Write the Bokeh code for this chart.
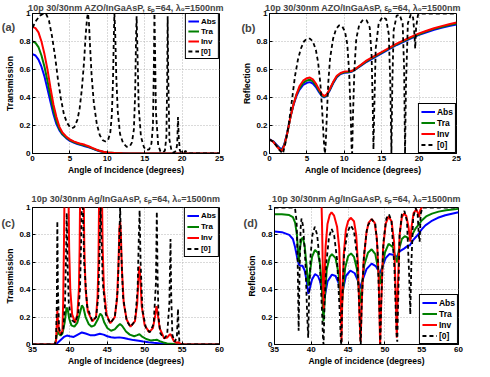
from bokeh.plotting import figure
from bokeh.layouts import column, row
from bokeh.models import Range1d, FixedTicker, CustomJSTickFormatter, Label
from bokeh.embed import file_html
from bokeh.resources import INLINE

# ---------------- data -----------------
# Panel (a): AZO transmission
a_x = [0, 0.4, 0.8, 1.2, 1.6, 2.0, 2.4, 2.8, 3.2, 3.6, 4.0, 4.5, 5.0, 5.5, 6.0, 6.5, 7.0, 7.5,
       8.0, 8.5, 9.0, 9.5, 10.0, 11.0, 12.0, 13.0, 25.0]
a_abs = [0.71, 0.70, 0.67, 0.62, 0.55, 0.46, 0.37, 0.28, 0.21, 0.165, 0.135, 0.11, 0.09, 0.078,
         0.068, 0.06, 0.052, 0.044, 0.035, 0.025, 0.016, 0.01, 0.006, 0.002, 0.001, 0.0, 0.0]
a_tra = [0.80, 0.79, 0.76, 0.70, 0.62, 0.52, 0.41, 0.31, 0.23, 0.175, 0.14, 0.115, 0.095, 0.082,
         0.072, 0.064, 0.056, 0.047, 0.037, 0.027, 0.018, 0.011, 0.007, 0.003, 0.001, 0.0, 0.0]
a_inv = [0.905, 0.895, 0.865, 0.80, 0.71, 0.60, 0.47, 0.35, 0.26, 0.19, 0.15, 0.122, 0.10, 0.087,
         0.077, 0.069, 0.062, 0.052, 0.04, 0.029, 0.019, 0.012, 0.008, 0.003, 0.001, 0.0, 0.0]
a0_x = [0, 0.5, 1.0, 1.5, 1.8, 2.2, 2.6, 3.0, 3.4, 3.8, 4.2, 4.6, 5.0, 5.3, 5.6, 6.0, 6.3, 6.6,
        6.9, 7.1, 7.3, 7.42, 7.55, 7.7, 7.9, 8.2, 8.6, 9.0, 9.4, 9.75, 10.1, 10.4, 10.6, 10.75,
        10.88, 10.95, 11.05, 11.2, 11.4, 11.7, 12.1, 12.6, 13.0, 13.3, 13.55, 13.72, 13.85, 13.92,
        14.02, 14.2, 14.5, 14.9, 15.2, 15.6, 15.9, 16.1, 16.22, 16.3, 16.38, 16.5, 16.8, 17.1,
        17.4, 17.7, 17.9, 18.0, 18.07, 18.15, 18.3, 18.6, 18.9, 19.2, 19.35, 19.45, 19.55, 19.7,
        20.0, 20.3, 20.45, 20.6, 21.0, 25.0]
a0_y = [0.90, 0.95, 0.985, 1.0, 1.0, 0.95, 0.84, 0.70, 0.53, 0.39, 0.28, 0.22, 0.19, 0.18, 0.19,
        0.24, 0.32, 0.46, 0.66, 0.84, 0.97, 1.0, 0.93, 0.76, 0.56, 0.36, 0.21, 0.13, 0.095, 0.086,
        0.095, 0.15, 0.27, 0.50, 0.85, 1.0, 0.88, 0.55, 0.30, 0.14, 0.075, 0.048, 0.05, 0.08, 0.17,
        0.42, 0.85, 0.98, 0.75, 0.33, 0.12, 0.045, 0.025, 0.03, 0.07, 0.2, 0.6, 1.0, 0.75, 0.3,
        0.06, 0.015, 0.008, 0.02, 0.12, 0.5, 0.98, 0.55, 0.1, 0.015, 0.006, 0.02, 0.07, 0.26, 0.12,
        0.02, 0.004, 0.01, 0.02, 0.005, 0.0, 0.0]

# Panel (b): AZO reflection
b_x = [0, 0.5, 1.0, 1.4, 1.7, 2.0, 2.4, 2.8, 3.2, 3.6, 4.0, 4.5, 5.0, 5.4, 5.8, 6.2, 6.6, 7.0,
       7.3, 7.6, 8.0, 8.5, 9.0, 9.5, 10.0, 10.5, 11.0, 11.5, 12.0, 13.0, 14.0, 15.0, 16.0, 17.0,
       18.0, 19.0, 20.0, 21.0, 22.0, 23.0, 24.0, 25.0]
b_abs = [0.10, 0.087, 0.06, 0.038, 0.032, 0.07, 0.155, 0.26, 0.345, 0.41, 0.455, 0.49, 0.505,
         0.51, 0.50, 0.475, 0.44, 0.41, 0.40, 0.41, 0.445, 0.50, 0.545, 0.568, 0.576, 0.579,
         0.584, 0.60, 0.618, 0.655, 0.685, 0.715, 0.745, 0.775, 0.80, 0.825, 0.847, 0.866, 0.884,
         0.898, 0.91, 0.921]
b_tra = [0.10, 0.085, 0.055, 0.03, 0.025, 0.065, 0.15, 0.26, 0.35, 0.42, 0.465, 0.505, 0.522,
         0.527, 0.515, 0.487, 0.45, 0.415, 0.405, 0.415, 0.45, 0.505, 0.55, 0.572, 0.58, 0.582,
         0.587, 0.603, 0.622, 0.66, 0.69, 0.72, 0.75, 0.78, 0.805, 0.83, 0.852, 0.872, 0.89,
         0.904, 0.917, 0.928]
b_inv = [0.10, 0.083, 0.05, 0.025, 0.02, 0.06, 0.15, 0.26, 0.35, 0.42, 0.48, 0.52, 0.538, 0.543,
         0.53, 0.50, 0.46, 0.425, 0.41, 0.42, 0.455, 0.51, 0.555, 0.575, 0.585, 0.587, 0.59,
         0.605, 0.625, 0.665, 0.695, 0.725, 0.755, 0.785, 0.81, 0.835, 0.858, 0.877, 0.895, 0.91,
         0.923, 0.935]
b0_x = [0, 0.5, 1.0, 1.4, 1.8, 2.2, 2.6, 3.0, 3.4, 3.8, 4.2, 4.6, 5.0, 5.4, 5.8, 6.2, 6.5, 6.8,
        7.05, 7.25, 7.4, 7.5, 7.65, 7.85, 8.1, 8.5, 8.9, 9.3, 9.7, 10.1, 10.4, 10.65, 10.85, 10.97,
        11.05, 11.15, 11.35, 11.6, 12.0, 12.5, 13.0, 13.4, 13.65, 13.8, 13.9, 14.0, 14.2, 14.6,
        15.1, 15.6, 15.95, 16.15, 16.3, 16.42, 16.6, 17.0, 17.4, 17.8, 18.0, 18.12, 18.25, 18.5,
        18.9, 19.2, 19.38, 19.48, 19.6, 19.85, 20.3, 21.0, 25.0]
b0_y = [0.10, 0.085, 0.05, 0.02, 0.0, 0.09, 0.22, 0.38, 0.55, 0.67, 0.75, 0.80, 0.82, 0.82, 0.80,
        0.74, 0.65, 0.5, 0.3, 0.1, 0.0, 0.05, 0.25, 0.5, 0.68, 0.82, 0.89, 0.915, 0.91, 0.87, 0.78,
        0.58, 0.28, 0.05, 0.0, 0.25, 0.6, 0.82, 0.92, 0.955, 0.95, 0.9, 0.7, 0.35, 0.03, 0.3, 0.75,
        0.93, 0.975, 0.96, 0.85, 0.5, 0.0, 0.5, 0.88, 0.985, 0.99, 0.93, 0.6, 0.0, 0.5, 0.93,
        0.995, 0.97, 0.85, 0.75, 0.9, 0.99, 1.0, 1.0, 1.0]

# Panel (c): Ag transmission
c_abs_x = [35, 38.1, 38.4, 38.8, 39.2, 39.6, 40.0, 40.5, 41.0, 41.6, 42.1, 42.7, 43.3, 44.0,
           44.5, 45.0, 45.5, 46.0, 46.6, 47.2, 47.8, 48.5, 49.2, 49.8, 50.5, 51.2, 51.8, 52.5,
           53.2, 54.0, 55.0, 60.0]
c_abs = [0, 0, 0.015, 0.035, 0.055, 0.065, 0.06, 0.055, 0.07, 0.088, 0.08, 0.068, 0.068, 0.078,
         0.072, 0.06, 0.053, 0.05, 0.052, 0.048, 0.04, 0.032, 0.028, 0.022, 0.016, 0.012, 0.01,
         0.006, 0.003, 0.001, 0, 0]
c_tra_x = [35, 38.0, 38.2, 38.35, 38.5, 38.75, 39.0, 39.3, 39.55, 39.7, 39.9, 40.2, 40.6, 41.0,
           41.3, 41.6, 41.8, 42.1, 42.5, 42.9, 43.3, 43.7, 44.05, 44.3, 44.6, 45.0, 45.5, 46.0,
           46.4, 46.7, 47.0, 47.5, 48.0, 48.6, 49.0, 49.3, 49.6, 50.2, 50.8, 51.3, 51.6, 52.0,
           52.5, 53.0, 53.5, 54.0, 54.5, 55.0, 60.0]
c_tra = [0, 0, 0.05, 0.1, 0.08, 0.065, 0.08, 0.16, 0.27, 0.26, 0.19, 0.14, 0.13, 0.16, 0.22,
         0.285, 0.27, 0.2, 0.15, 0.13, 0.14, 0.18, 0.225, 0.21, 0.16, 0.12, 0.1, 0.11, 0.135, 0.15,
         0.135, 0.095, 0.072, 0.06, 0.068, 0.075, 0.06, 0.04, 0.03, 0.032, 0.035, 0.025, 0.015,
         0.008, 0.006, 0.003, 0.001, 0, 0]
c_inv_x = [35, 38.0, 38.15, 38.25, 38.32, 38.4, 38.55, 38.8, 39.0, 39.1, 39.2, 39.27, 39.6,
           39.82, 39.9, 40.05, 40.3, 40.7, 41.0, 41.2, 41.3, 41.36, 41.6, 41.85, 41.93, 42.1,
           42.4, 43.0, 43.5, 43.7, 43.82, 43.9, 44.1, 44.3, 44.38, 44.55, 44.9, 45.4, 46.0, 46.3,
           46.5, 46.62, 46.72, 46.82, 46.95, 47.2, 47.6, 48.1, 48.7, 49.0, 49.17, 49.3, 49.42,
           49.6, 50.0, 50.6, 51.1, 51.4, 51.58, 51.75, 52.0, 52.6, 53.0, 53.3, 53.45, 53.6, 53.9,
           54.3, 54.5, 54.7, 55.0, 60.0]
c_inv = [0, 0, 0.03, 0.15, 0.25, 0.18, 0.1, 0.075, 0.1, 0.3, 0.7, 1.05, 1.5, 1.05, 0.7, 0.4,
         0.22, 0.16, 0.22, 0.4, 0.7, 1.05, 1.5, 1.05, 0.7, 0.4, 0.24, 0.17, 0.2, 0.35, 0.6, 1.05,
         1.4, 1.05, 0.7, 0.4, 0.22, 0.155, 0.2, 0.33, 0.6, 0.85, 0.9, 0.8, 0.55, 0.3, 0.18, 0.13,
         0.17, 0.3, 0.5, 0.57, 0.48, 0.28, 0.14, 0.09, 0.12, 0.21, 0.28, 0.22, 0.12, 0.045, 0.05,
         0.07, 0.075, 0.06, 0.025, 0.012, 0.017, 0.008, 0, 0]
c_x = [35, 38.0, 38.15, 38.25, 38.32, 38.4, 38.55, 38.8, 39.1, 39.35, 39.5, 39.58, 39.68, 39.85,
       40.2, 40.7, 41.1, 41.35, 41.5, 41.6, 41.72, 41.9, 42.3, 43.0, 43.5, 43.8, 44.0, 44.1, 44.2,
       44.4, 44.8, 45.4, 46.0, 46.4, 46.6, 46.72, 46.85, 47.1, 47.6, 48.1, 48.7, 49.05, 49.22,
       49.32, 49.45, 49.7, 50.2, 50.7, 51.2, 51.5, 51.62, 51.72, 51.85, 52.1, 52.6, 53.0, 53.3,
       53.45, 53.55, 53.7, 54.0, 54.3, 54.45, 54.55, 54.65, 54.8, 55.2, 60.0]
c_0 = [0, 0, 0.05, 0.3, 0.9, 0.4, 0.12, 0.07, 0.1, 0.3, 0.7, 0.96, 0.6, 0.3, 0.18, 0.16, 0.22,
       0.4, 0.75, 1.05, 1.05, 0.6, 0.28, 0.17, 0.2, 0.35, 0.75, 1.05, 0.8, 0.45, 0.22, 0.155, 0.2,
       0.4, 0.75, 1.0, 0.7, 0.35, 0.17, 0.13, 0.17, 0.4, 0.8, 0.98, 0.6, 0.25, 0.11, 0.09, 0.15,
       0.45, 0.97, 0.5, 0.2, 0.08, 0.045, 0.07, 0.3, 0.77, 0.35, 0.07, 0.02, 0.05, 0.26, 0.1, 0.01,
       0, 0, 0]

# Panel (d): Ag reflection
d_abs_x = [35, 36, 37, 37.5, 37.8, 38.1, 38.3, 38.5, 38.8, 39.1, 39.35, 39.6, 39.8, 40.1, 40.5,
           40.9, 41.2, 41.5, 41.7, 41.9, 42.2, 42.8, 43.3, 43.7, 43.95, 44.1, 44.3, 44.7, 45.3,
           45.9, 46.3, 46.6, 46.9, 47.5, 48.2, 48.8, 49.1, 49.35, 49.6, 50.1, 50.6, 51.1, 51.45,
           51.65, 52.0, 52.6, 53.1, 53.4, 53.8, 54.3, 54.6, 55.0, 55.5, 56.3, 57.2, 58.2, 59.1, 60]
d_abs = [0.825, 0.82, 0.80, 0.77, 0.71, 0.63, 0.585, 0.575, 0.575, 0.54, 0.47, 0.37, 0.41,
         0.475, 0.513, 0.5, 0.46, 0.38, 0.3, 0.37, 0.46, 0.51, 0.5, 0.45, 0.38, 0.33, 0.4, 0.5,
         0.54, 0.52, 0.47, 0.41, 0.46, 0.55, 0.59, 0.57, 0.54, 0.52, 0.56, 0.63, 0.66, 0.655, 0.64,
         0.645, 0.68, 0.70, 0.72, 0.725, 0.76, 0.79, 0.81, 0.84, 0.87, 0.9, 0.925, 0.943, 0.955,
         0.965]
d_tra_x = [35, 36, 37, 37.5, 37.8, 38.05, 38.2, 38.3, 38.45, 38.65, 38.85, 39.1, 39.35, 39.6,
           39.8, 40.1, 40.5, 40.9, 41.2, 41.45, 41.65, 41.85, 42.1, 42.5, 42.8, 43.3, 43.7, 43.95,
           44.1, 44.25, 44.6, 45.0, 45.4, 45.8, 46.2, 46.5, 46.68, 46.85, 47.2, 47.7, 48.2, 48.7,
           49.05, 49.35, 49.6, 50.0, 50.5, 51.1, 51.45, 51.65, 51.9, 52.3, 52.7, 53.1, 53.4, 53.7,
           54.2, 54.6, 55.0, 55.6, 56.4, 57.3, 58.3, 59.2, 60]
d_tra = [0.95, 0.95, 0.945, 0.93, 0.89, 0.8, 0.68, 0.6, 0.7, 0.77, 0.78, 0.72, 0.58, 0.43, 0.52,
         0.64, 0.69, 0.67, 0.58, 0.4, 0.17, 0.35, 0.55, 0.64, 0.66, 0.63, 0.52, 0.36, 0.24, 0.36,
         0.56, 0.645, 0.665, 0.64, 0.55, 0.38, 0.3, 0.42, 0.58, 0.67, 0.695, 0.66, 0.56, 0.44,
         0.55, 0.67, 0.735, 0.71, 0.63, 0.6, 0.69, 0.77, 0.79, 0.78, 0.765, 0.8, 0.85, 0.875,
         0.905, 0.935, 0.955, 0.97, 0.98, 0.985, 0.99]
d_inv_x = [41.3, 41.45, 41.58, 41.68, 41.78, 41.95, 42.2, 42.5, 42.75, 43.1, 43.5, 43.8, 44.0,
           44.1, 44.2, 44.4, 44.7, 45.0, 45.35, 45.8, 46.1, 46.35, 46.55, 46.7, 46.85, 47.1,
           47.5, 47.8, 48.2, 48.6, 48.9, 49.15, 49.35, 49.5, 49.75, 50.1, 50.5, 50.9, 51.25,
           51.45, 51.62, 51.75, 52.0, 52.3, 52.6, 52.9, 53.2, 53.45, 53.65, 53.9, 54.25, 54.5,
           54.65, 54.8, 55.1, 55.5, 60]
d_inv = [1.2, 0.9, 0.5, 0.26, 0.45, 0.72, 0.88, 0.945, 0.965, 0.94, 0.86, 0.7, 0.35, 0.02, 0.3,
         0.65, 0.84, 0.9, 0.925, 0.9, 0.8, 0.58, 0.2, 0.02, 0.3, 0.6, 0.82, 0.89, 0.915, 0.89,
         0.78, 0.5, 0.0, 0.3, 0.7, 0.88, 0.935, 0.9, 0.75, 0.4, 0.05, 0.4, 0.8, 0.93, 0.955, 0.94,
         0.86, 0.75, 0.87, 0.96, 0.985, 0.96, 0.93, 0.98, 1.01, 1.05, 1.08]
d0_x = [35, 37.5, 37.8, 38.0, 38.15, 38.28, 38.4, 38.55, 38.67, 38.9, 39.2, 39.45, 39.58, 39.7,
        39.9, 40.15, 40.48, 40.8, 41.15, 41.45, 41.6, 41.67, 41.8, 42.05, 42.4, 42.75, 43.1,
        43.5, 43.85, 44.02, 44.1, 44.2, 44.45, 44.9, 45.35, 45.8, 46.2, 46.5, 46.65, 46.72,
        46.85, 47.15, 47.6, 48.2, 48.7, 49.0, 49.25, 49.38, 49.5, 49.8, 50.2, 50.55, 50.9, 51.3,
        51.55, 51.68, 51.8, 52.0, 52.3, 52.65, 53.0, 53.3, 53.45, 53.6, 53.85, 54.2, 54.45,
        54.6, 54.72, 54.85, 55.1, 60]
d0_y = [1.0, 1.0, 0.99, 0.9, 0.6, 0.1, 0.5, 0.85, 0.92, 0.86, 0.6, 0.2, 0.05, 0.35, 0.65, 0.8,
        0.86, 0.8, 0.6, 0.25, 0.03, 0.0, 0.3, 0.6, 0.78, 0.845, 0.8, 0.62, 0.25, 0.02, 0.0, 0.3,
        0.65, 0.82, 0.87, 0.83, 0.65, 0.3, 0.05, 0.0, 0.3, 0.65, 0.86, 0.915, 0.88, 0.7, 0.25,
        0.0, 0.3, 0.75, 0.92, 0.95, 0.9, 0.55, 0.1, 0.02, 0.3, 0.8, 0.95, 0.975, 0.9, 0.5, 0.22,
        0.6, 0.93, 0.995, 0.95, 0.8, 0.75, 0.95, 1.0, 1.0]

y_ticks = [0, 0.2, 0.4, 0.6, 0.8, 1.0]
x_ticks_azo = [0, 5, 10, 15, 20, 25]
x_ticks_ag = [35, 40, 45, 50, 55, 60]
legend_names = ["Abs", "Tra", "Inv", "[0]"]
title_azo = "10p 30/30nm AZO/InGaAsP, \u03b5\u209a=64, \u03bb\u2080=1500nm"
title_ag = "10p 30/30nm Ag/InGaAsP, \u03b5\u209a=64, \u03bb\u2080=1500nm"

# ---------------- styling helpers -----------------
FONT = "Liberation Sans"
COLORS = ["#0000ff", "#008000", "#ff0000", "#000000"]


def make_panel(title, xr, xticks, xlabel, ylabel, series, tag, tag_xy,
               fw, fh, bl, br, bt, bb, title_standoff, leg_loc, leg_glyph_w, leg_h, leg_font):
    p = figure(frame_width=fw, frame_height=fh, x_range=Range1d(*xr), y_range=Range1d(0, 1),
               output_backend="svg", toolbar_location=None, title=title,
               min_border_left=bl, min_border_right=br, min_border_top=bt, min_border_bottom=bb)
    p.title.text_font = FONT
    p.title.text_font_style = "bold"
    p.title.text_font_size = "9px"
    p.title.align = "center"
    p.title.standoff = title_standoff
    p.outline_line_color = "black"
    p.outline_line_alpha = 1
    p.background_fill_color = "white"
    p.border_fill_color = "white"

    p.xaxis.ticker = FixedTicker(ticks=xticks)
    p.yaxis.ticker = FixedTicker(ticks=y_ticks)
    p.yaxis.formatter = CustomJSTickFormatter(code="""
        if (Math.abs(tick) < 1e-9) return "0";
        if (Math.abs(tick - 1) < 1e-9) return "1";
        return tick.toFixed(1);
    """)
    p.xaxis.axis_label = xlabel
    p.yaxis.axis_label = ylabel
    for ax in (p.xaxis[0], p.yaxis[0]):
        ax.major_tick_in = 3
        ax.major_tick_out = 0
        ax.minor_tick_line_color = None
        ax.axis_line_color = "black"
        ax.major_tick_line_color = "black"
        ax.major_label_text_font = FONT
        ax.major_label_text_font_style = "bold"
        ax.major_label_text_font_size = "8px"
        ax.major_label_text_color = "black"
        ax.major_label_standoff = 2
        ax.axis_label_text_font = FONT
        ax.axis_label_text_font_style = "bold"
        ax.axis_label_text_font_size = "8.5px"
        ax.axis_label_text_color = "black"
        ax.axis_label_standoff = 1
    for g in (p.xgrid[0], p.ygrid[0]):
        g.grid_line_color = "#b4b4b4"
        g.grid_line_dash = "1 2"
        g.grid_line_width = 1

    for i, (xs, ys) in enumerate(series):
        if i < 3:
            p.line(xs, ys, line_color=COLORS[i], line_width=2, legend_label=legend_names[i])
        else:
            p.line(xs, ys, line_color=COLORS[i], line_width=1.8, line_dash="4 3",
                   legend_label=legend_names[i])

    lg = p.legend[0]
    lg.location = leg_loc
    lg.margin = 0
    lg.padding = 2
    lg.spacing = 0
    lg.border_line_color = "black"
    lg.border_line_width = 1
    lg.border_line_alpha = 1
    lg.background_fill_color = "white"
    lg.background_fill_alpha = 1
    lg.label_text_font = FONT
    lg.label_text_font_style = "bold"
    lg.label_text_font_size = leg_font
    lg.label_text_line_height = 1.0
    lg.label_text_color = "black"
    lg.glyph_width = leg_glyph_w
    lg.glyph_height = leg_h
    lg.label_height = leg_h
    lg.label_width = 14
    lg.label_standoff = 2

    # panel tag placed in the (empty) right side panel so it is not clipped by the frame
    p.add_layout(Label(x=tag_xy[0], y=tag_xy[1], text=tag, text_font=FONT,
                       text_font_style="bold", text_font_size="11px",
                       text_baseline="middle", text_align="left"), "right")
    return p


pa = make_panel(title_azo, (0, 25), x_ticks_azo, "Angle of Incidence (degrees)", "Transmission",
                [(a_x, a_abs), (a_x, a_tra), (a_x, a_inv), (a0_x, a0_y)],
                "(a)", (-4.1, 0.905), 187, 140, 32, 18, 11, 23, 1, "top_right", 11, 10, "8px")
pb = make_panel(title_azo, (0, 25), x_ticks_azo, "Angle of Incidence (degrees)", "Reflection",
                [(b_x, b_abs), (b_x, b_tra), (b_x, b_inv), (b0_x, b0_y)],
                "(b)", (-3.75, 0.9), 187, 140, 32, 18, 11, 23, 1, "bottom_right", 14, 11,
                "8.5px")
pc = make_panel(title_ag, (35, 60), x_ticks_ag, "Angle of Incidence (degrees)", "Transmission",
                [(c_abs_x, c_abs), (c_tra_x, c_tra), (c_inv_x, c_inv), (c_x, c_0)],
                "(c)", (30.85, 0.89), 187, 137, 32, 18, 30, 20, 8, "top_right", 12, 11, "8px")
pd_ = make_panel(title_ag, (35, 60), x_ticks_ag, "Angle of incidence (degrees)", "Reflection",
                 [(d_abs_x, d_abs), (d_tra_x, d_tra), (d_inv_x, d_inv), (d0_x, d0_y)],
                 "(d)", (30.8, 0.89), 184, 137, 37, 16, 30, 20, 8, "bottom_right", 15, 11,
                 "8.5px")

layout = column(row(pa, pb), row(pc, pd_))

open("out.html", "w").write(file_html(layout, INLINE))
